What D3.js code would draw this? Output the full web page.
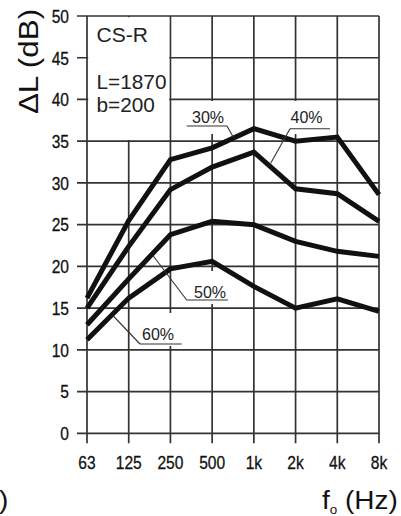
<!DOCTYPE html>
<html><head><meta charset="utf-8">
<script src="https://cdn.jsdelivr.net/npm/d3@7"></script>
<style>body{margin:0;background:#fff}svg{display:block}</style>
</head><body>
<svg id="c" width="401" height="516"></svg>
<script>
// ---- data ----
const categories = ["63","125","250","500","1k","2k","4k","8k"];
const yTicks = [0,5,10,15,20,25,30,35,40,45,50];
const seriesNames = ["30%","40%","50%","60%"];
const s30 = [16.2,25.5,32.8,34.2,36.5,35.0,35.5,28.6];
const s40 = [15.0,22.4,29.2,31.9,33.7,29.3,28.7,25.4];
const s50 = [13.0,18.5,23.8,25.4,25.0,23.0,21.8,21.2];
const s60 = [11.2,16.2,19.7,20.6,17.6,15.0,16.1,14.6];
const boxLines = ["CS-R","L=1870","b=200"];
const yTitle = "ΔL (dB)";

const series = [s30,s40,s50,s60];
const FONT = "'Liberation Sans', Arial, Helvetica, sans-serif";

const svg = d3.select("#c");
const x = d3.scalePoint().domain(categories).range([87,379]);
const y = d3.scaleLinear().domain([0,50]).range([433.3,16]);
const gridColor = "#333";

// grid + tick extensions
const g = svg.append("g");
g.selectAll("line.h").data(yTicks).join("line")
  .attr("x1",77).attr("x2",x.range()[1])
  .attr("y1",d=>y(d)).attr("y2",d=>y(d))
  .attr("stroke",gridColor).attr("stroke-width",1.7);
g.selectAll("line.v").data(categories).join("line")
  .attr("x1",d=>x(d)).attr("x2",d=>x(d))
  .attr("y1",y(50)).attr("y2",y(0)+10)
  .attr("stroke",gridColor).attr("stroke-width",1.7);

// white masks (info box and label backgrounds)
const masks = [
  [x("63")+1.2, y(50)+1.2, x("250")-x("63")-2.4, y(35)-y(50)-2.4],
  [186,101,43,33],
  [287,101,45,33],
  [188,271,41,33],
  [138,313,46,33]
];
svg.selectAll("rect.m").data(masks).join("rect")
  .attr("x",d=>d[0]).attr("y",d=>d[1]).attr("width",d=>d[2]).attr("height",d=>d[3])
  .attr("fill","#fff");

// curves
const line = d3.line().x((d,i)=>x(categories[i])).y(d=>y(d));
svg.selectAll("path.s").data(series).join("path")
  .attr("d",line).attr("fill","none").attr("stroke","#111")
  .attr("stroke-width",5).attr("stroke-linejoin","miter").attr("stroke-miterlimit",4);

// y tick labels
svg.selectAll("text.yt").data(yTicks).join("text")
  .attr("transform",d=>`translate(69,${y(d)+6.8}) scale(0.82,1)`)
  .attr("text-anchor","end").attr("font-family",FONT).attr("font-size",19).attr("fill","#111")
  .attr("stroke","#111").attr("stroke-width",0.3)
  .text(d=>d);
// x tick labels
svg.selectAll("text.xt").data(categories).join("text")
  .attr("transform",d=>`translate(${x(d)},469) scale(0.82,1)`)
  .attr("text-anchor","middle").attr("font-family",FONT).attr("font-size",19).attr("fill","#111")
  .attr("stroke","#111").attr("stroke-width",0.3)
  .text(d=>d);

// info box text
const boxY = [41.7,89.3,111.7];
svg.selectAll("text.box").data(boxLines).join("text")
  .attr("x",96.5).attr("y",(d,i)=>boxY[i])
  .attr("font-family",FONT).attr("font-size",(d,i)=>i==0?21:20.8).attr("fill","#222")
  .text(d=>d);

// series labels with underline + leader
const ann = [
  {t:seriesNames[0], tx:208, ty:122.5, u:[186.7,227,126], l:[227,126,233.5,137.5]},
  {t:seriesNames[1], tx:306.5, ty:123.3, u:[290,330,128.7], l:[290,128.7,270.7,163.3]},
  {t:seriesNames[2], tx:210, ty:297.7, u:[186.7,228,300], l:[186.7,300,153.3,256]},
  {t:seriesNames[3], tx:158, ty:340, u:[140,181.7,344], l:[140,344,113.3,316]}
];
ann.forEach(a=>{
  svg.append("text").attr("x",a.tx).attr("y",a.ty).attr("text-anchor","middle")
    .attr("font-family",FONT).attr("font-size",16).attr("fill","#222").text(a.t);
  svg.append("line").attr("x1",a.u[0]).attr("x2",a.u[1]).attr("y1",a.u[2]).attr("y2",a.u[2])
    .attr("stroke","#333").attr("stroke-width",1.1);
  svg.append("line").attr("x1",a.l[0]).attr("y1",a.l[1]).attr("x2",a.l[2]).attr("y2",a.l[3])
    .attr("stroke","#333").attr("stroke-width",1.1);
});

// axis titles
svg.append("text").attr("transform","translate(37.5,61.5) rotate(-90) scale(1.12,1)")
  .attr("text-anchor","middle").attr("font-family",FONT).attr("font-size",28).attr("fill","#111")
  .text(yTitle);
const xt = svg.append("text").attr("transform","translate(322,509.3) scale(1.12,1)")
  .attr("font-family",FONT).attr("font-size",25).attr("fill","#111");
xt.append("tspan").text("f");
xt.append("tspan").attr("font-size",12).attr("dy",4.5).text("o");
xt.append("tspan").attr("dy",-4.5).text(" (Hz)");

// partial panel label at bottom-left edge
svg.append("text").attr("transform","translate(-1,509) scale(1.12,1)")
  .attr("font-family",FONT).attr("font-size",25).attr("fill","#111").text(")");
</script>
</body></html>
